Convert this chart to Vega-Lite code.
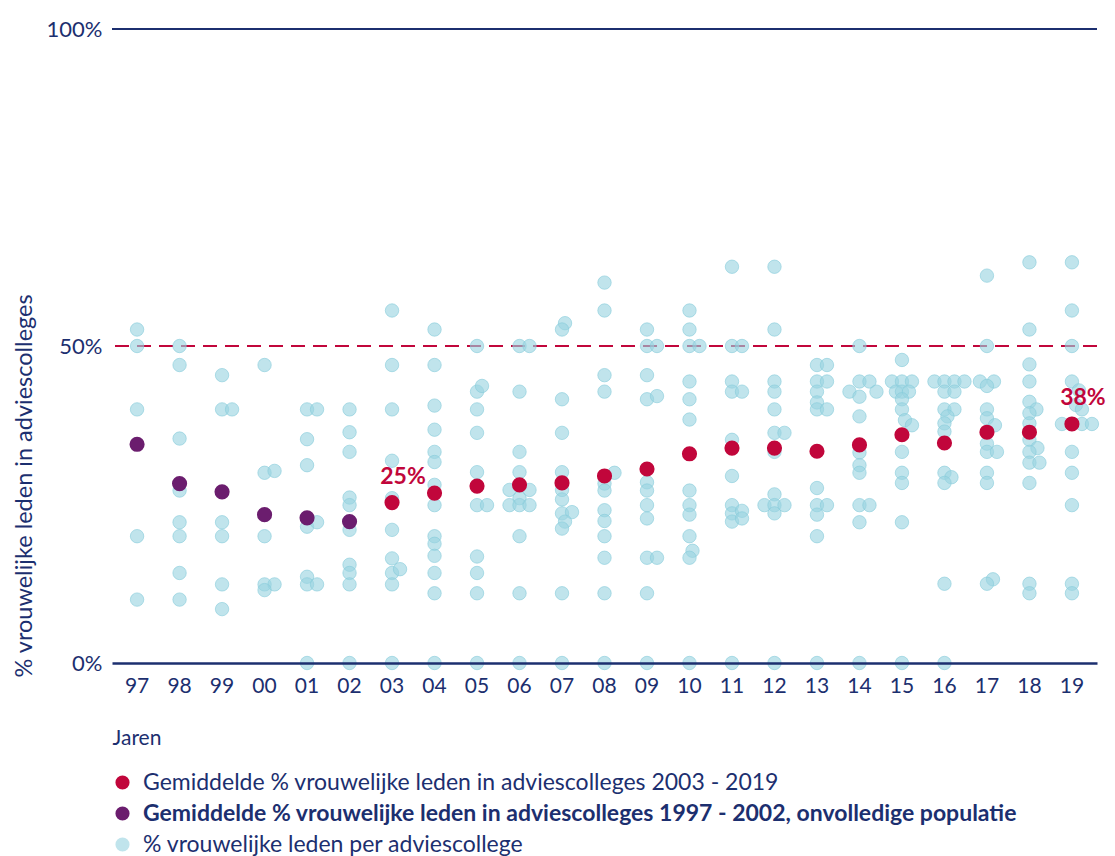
{
  "$schema": "https://vega.github.io/schema/vega-lite/v6.json",
  "autosize": {"type": "none"},
  "padding": {"left": 112, "top": 29, "right": 18, "bottom": 193},
  "width": 985,
  "height": 634,
  "background": "white",
  "config": {
    "font": "Lato",
    "view": {"stroke": null},
    "axis": {"labelColor": "#1c2f6f", "titleColor": "#1c2f6f", "labelFont": "Lato", "titleFont": "Lato"},
    "legend": {"labelColor": "#1c2f6f", "labelFont": "Lato"}
  },
  "datasets": {
    "gemiddelden": [
      {"jaar": "97", "pct": 34.5, "reeks": "b"},
      {"jaar": "98", "pct": 28.3, "reeks": "b"},
      {"jaar": "99", "pct": 27.0, "reeks": "b"},
      {"jaar": "00", "pct": 23.4, "reeks": "b"},
      {"jaar": "01", "pct": 22.9, "reeks": "b"},
      {"jaar": "02", "pct": 22.3, "reeks": "b"},
      {"jaar": "03", "pct": 25.3, "reeks": "a", "lbl": "25%"},
      {"jaar": "04", "pct": 26.8, "reeks": "a"},
      {"jaar": "05", "pct": 27.9, "reeks": "a"},
      {"jaar": "06", "pct": 28.1, "reeks": "a"},
      {"jaar": "07", "pct": 28.4, "reeks": "a"},
      {"jaar": "08", "pct": 29.5, "reeks": "a"},
      {"jaar": "09", "pct": 30.6, "reeks": "a"},
      {"jaar": "10", "pct": 33.0, "reeks": "a"},
      {"jaar": "11", "pct": 33.9, "reeks": "a"},
      {"jaar": "12", "pct": 33.9, "reeks": "a"},
      {"jaar": "13", "pct": 33.4, "reeks": "a"},
      {"jaar": "14", "pct": 34.4, "reeks": "a"},
      {"jaar": "15", "pct": 36.0, "reeks": "a"},
      {"jaar": "16", "pct": 34.7, "reeks": "a"},
      {"jaar": "17", "pct": 36.4, "reeks": "a"},
      {"jaar": "18", "pct": 36.4, "reeks": "a"},
      {"jaar": "19", "pct": 37.7, "reeks": "a", "lbl": "38%"}
    ],
    "colleges": [
      {"jaar": "97", "pct": 52.6, "j": 0}, {"jaar": "97", "pct": 50, "j": 0}, {"jaar": "97", "pct": 40, "j": 0}, {"jaar": "97", "pct": 20, "j": 0}, {"jaar": "97", "pct": 10, "j": 0},
      {"jaar": "98", "pct": 50, "j": 0}, {"jaar": "98", "pct": 47, "j": 0}, {"jaar": "98", "pct": 35.4, "j": 0}, {"jaar": "98", "pct": 27.2, "j": 0}, {"jaar": "98", "pct": 22.2, "j": 0}, {"jaar": "98", "pct": 20, "j": 0}, {"jaar": "98", "pct": 14.2, "j": 0}, {"jaar": "98", "pct": 10, "j": 0},
      {"jaar": "99", "pct": 45.4, "j": 0}, {"jaar": "99", "pct": 40, "j": 0}, {"jaar": "99", "pct": 40, "j": 1}, {"jaar": "99", "pct": 22.2, "j": 0}, {"jaar": "99", "pct": 20, "j": 0}, {"jaar": "99", "pct": 12.4, "j": 0}, {"jaar": "99", "pct": 8.5, "j": 0},
      {"jaar": "00", "pct": 47, "j": 0}, {"jaar": "00", "pct": 30, "j": 0}, {"jaar": "00", "pct": 30.3, "j": 1}, {"jaar": "00", "pct": 20, "j": 0}, {"jaar": "00", "pct": 12.4, "j": 0}, {"jaar": "00", "pct": 12.4, "j": 1}, {"jaar": "00", "pct": 11.5, "j": 0},
      {"jaar": "01", "pct": 40, "j": 0}, {"jaar": "01", "pct": 40, "j": 1}, {"jaar": "01", "pct": 35.3, "j": 0}, {"jaar": "01", "pct": 31.2, "j": 0}, {"jaar": "01", "pct": 21.5, "j": 0}, {"jaar": "01", "pct": 22.2, "j": 1}, {"jaar": "01", "pct": 13.6, "j": 0}, {"jaar": "01", "pct": 12.4, "j": 0}, {"jaar": "01", "pct": 12.4, "j": 1}, {"jaar": "01", "pct": 0, "j": 0},
      {"jaar": "02", "pct": 40, "j": 0}, {"jaar": "02", "pct": 36.4, "j": 0}, {"jaar": "02", "pct": 33.3, "j": 0}, {"jaar": "02", "pct": 26.1, "j": 0}, {"jaar": "02", "pct": 24.9, "j": 0}, {"jaar": "02", "pct": 21, "j": 0}, {"jaar": "02", "pct": 15.5, "j": 0}, {"jaar": "02", "pct": 14.2, "j": 0}, {"jaar": "02", "pct": 12.4, "j": 0}, {"jaar": "02", "pct": 0, "j": 0},
      {"jaar": "03", "pct": 55.6, "j": 0}, {"jaar": "03", "pct": 47, "j": 0}, {"jaar": "03", "pct": 40, "j": 0}, {"jaar": "03", "pct": 31.9, "j": 0}, {"jaar": "03", "pct": 26, "j": 0}, {"jaar": "03", "pct": 21, "j": 0}, {"jaar": "03", "pct": 16.5, "j": 0}, {"jaar": "03", "pct": 14.2, "j": 0}, {"jaar": "03", "pct": 14.8, "j": 0.8}, {"jaar": "03", "pct": 12.4, "j": 0}, {"jaar": "03", "pct": 0, "j": 0},
      {"jaar": "04", "pct": 52.6, "j": 0}, {"jaar": "04", "pct": 47, "j": 0}, {"jaar": "04", "pct": 40.6, "j": 0}, {"jaar": "04", "pct": 36.8, "j": 0}, {"jaar": "04", "pct": 33.3, "j": 0}, {"jaar": "04", "pct": 31.7, "j": 0}, {"jaar": "04", "pct": 28.1, "j": 0}, {"jaar": "04", "pct": 24.9, "j": 0}, {"jaar": "04", "pct": 20, "j": 0}, {"jaar": "04", "pct": 18.8, "j": 0}, {"jaar": "04", "pct": 16.9, "j": 0}, {"jaar": "04", "pct": 14.2, "j": 0}, {"jaar": "04", "pct": 11, "j": 0}, {"jaar": "04", "pct": 0, "j": 0},
      {"jaar": "05", "pct": 50, "j": 0}, {"jaar": "05", "pct": 42.8, "j": 0}, {"jaar": "05", "pct": 43.7, "j": 0.5}, {"jaar": "05", "pct": 40, "j": 0}, {"jaar": "05", "pct": 36.3, "j": 0}, {"jaar": "05", "pct": 30.1, "j": 0}, {"jaar": "05", "pct": 24.9, "j": 0}, {"jaar": "05", "pct": 24.9, "j": 1}, {"jaar": "05", "pct": 16.8, "j": 0}, {"jaar": "05", "pct": 14.2, "j": 0}, {"jaar": "05", "pct": 11, "j": 0}, {"jaar": "05", "pct": 0, "j": 0},
      {"jaar": "06", "pct": 50, "j": 0}, {"jaar": "06", "pct": 50, "j": 1}, {"jaar": "06", "pct": 42.8, "j": 0}, {"jaar": "06", "pct": 33.3, "j": 0}, {"jaar": "06", "pct": 30.1, "j": 0}, {"jaar": "06", "pct": 27.3, "j": -1}, {"jaar": "06", "pct": 27.3, "j": 1}, {"jaar": "06", "pct": 26, "j": 0}, {"jaar": "06", "pct": 24.9, "j": -1}, {"jaar": "06", "pct": 24.9, "j": 0}, {"jaar": "06", "pct": 24.9, "j": 1}, {"jaar": "06", "pct": 20, "j": 0}, {"jaar": "06", "pct": 11, "j": 0}, {"jaar": "06", "pct": 0, "j": 0},
      {"jaar": "07", "pct": 53.6, "j": 0.3}, {"jaar": "07", "pct": 52.6, "j": 0}, {"jaar": "07", "pct": 41.6, "j": 0}, {"jaar": "07", "pct": 36.3, "j": 0}, {"jaar": "07", "pct": 30.1, "j": 0}, {"jaar": "07", "pct": 27.3, "j": 0}, {"jaar": "07", "pct": 25.8, "j": 0}, {"jaar": "07", "pct": 23.6, "j": 0}, {"jaar": "07", "pct": 23.8, "j": 1}, {"jaar": "07", "pct": 22.3, "j": 0.3}, {"jaar": "07", "pct": 21.2, "j": 0}, {"jaar": "07", "pct": 11, "j": 0}, {"jaar": "07", "pct": 0, "j": 0},
      {"jaar": "08", "pct": 60, "j": 0}, {"jaar": "08", "pct": 55.6, "j": 0}, {"jaar": "08", "pct": 45.4, "j": 0}, {"jaar": "08", "pct": 42.8, "j": 0}, {"jaar": "08", "pct": 30, "j": 1}, {"jaar": "08", "pct": 28.3, "j": 0}, {"jaar": "08", "pct": 27.2, "j": 0}, {"jaar": "08", "pct": 24.1, "j": 0}, {"jaar": "08", "pct": 22.4, "j": 0}, {"jaar": "08", "pct": 20, "j": 0}, {"jaar": "08", "pct": 16.6, "j": 0}, {"jaar": "08", "pct": 11, "j": 0}, {"jaar": "08", "pct": 0, "j": 0},
      {"jaar": "09", "pct": 52.6, "j": 0}, {"jaar": "09", "pct": 50, "j": 0}, {"jaar": "09", "pct": 50, "j": 1}, {"jaar": "09", "pct": 45.4, "j": 0}, {"jaar": "09", "pct": 41.6, "j": 0}, {"jaar": "09", "pct": 42.1, "j": 1}, {"jaar": "09", "pct": 28.5, "j": 0}, {"jaar": "09", "pct": 27.2, "j": 0}, {"jaar": "09", "pct": 24.9, "j": 0}, {"jaar": "09", "pct": 22.8, "j": 0}, {"jaar": "09", "pct": 16.6, "j": 0}, {"jaar": "09", "pct": 16.6, "j": 1}, {"jaar": "09", "pct": 11, "j": 0}, {"jaar": "09", "pct": 0, "j": 0},
      {"jaar": "10", "pct": 55.6, "j": 0}, {"jaar": "10", "pct": 52.6, "j": 0}, {"jaar": "10", "pct": 50, "j": 0}, {"jaar": "10", "pct": 50, "j": 1}, {"jaar": "10", "pct": 44.4, "j": 0}, {"jaar": "10", "pct": 41.6, "j": 0}, {"jaar": "10", "pct": 38.4, "j": 0}, {"jaar": "10", "pct": 27.2, "j": 0}, {"jaar": "10", "pct": 24.9, "j": 0}, {"jaar": "10", "pct": 23.4, "j": 0}, {"jaar": "10", "pct": 20, "j": 0}, {"jaar": "10", "pct": 17.7, "j": 0.3}, {"jaar": "10", "pct": 16.6, "j": 0}, {"jaar": "10", "pct": 0, "j": 0},
      {"jaar": "11", "pct": 62.5, "j": 0}, {"jaar": "11", "pct": 50, "j": 0}, {"jaar": "11", "pct": 50, "j": 1}, {"jaar": "11", "pct": 44.4, "j": 0}, {"jaar": "11", "pct": 42.8, "j": 0}, {"jaar": "11", "pct": 42.8, "j": 1}, {"jaar": "11", "pct": 35.2, "j": 0}, {"jaar": "11", "pct": 29.5, "j": 0}, {"jaar": "11", "pct": 24.9, "j": 0}, {"jaar": "11", "pct": 23.6, "j": 0}, {"jaar": "11", "pct": 24, "j": 1}, {"jaar": "11", "pct": 22.3, "j": 0}, {"jaar": "11", "pct": 22.8, "j": 1}, {"jaar": "11", "pct": 0, "j": 0},
      {"jaar": "12", "pct": 62.5, "j": 0}, {"jaar": "12", "pct": 52.6, "j": 0}, {"jaar": "12", "pct": 44.4, "j": 0}, {"jaar": "12", "pct": 42.8, "j": 0}, {"jaar": "12", "pct": 40, "j": 0}, {"jaar": "12", "pct": 36.3, "j": 0}, {"jaar": "12", "pct": 36.3, "j": 1}, {"jaar": "12", "pct": 33.3, "j": 0}, {"jaar": "12", "pct": 26.6, "j": 0}, {"jaar": "12", "pct": 24.9, "j": -1}, {"jaar": "12", "pct": 24.9, "j": 0}, {"jaar": "12", "pct": 24.9, "j": 1}, {"jaar": "12", "pct": 23.6, "j": 0}, {"jaar": "12", "pct": 0, "j": 0},
      {"jaar": "13", "pct": 47, "j": 0}, {"jaar": "13", "pct": 47, "j": 1}, {"jaar": "13", "pct": 44.4, "j": 0}, {"jaar": "13", "pct": 44.4, "j": 1}, {"jaar": "13", "pct": 42.8, "j": 0}, {"jaar": "13", "pct": 41.1, "j": 0}, {"jaar": "13", "pct": 40, "j": 0}, {"jaar": "13", "pct": 40, "j": 1}, {"jaar": "13", "pct": 27.6, "j": 0}, {"jaar": "13", "pct": 24.9, "j": 0}, {"jaar": "13", "pct": 24.9, "j": 1}, {"jaar": "13", "pct": 23.4, "j": 0}, {"jaar": "13", "pct": 20, "j": 0}, {"jaar": "13", "pct": 0, "j": 0},
      {"jaar": "14", "pct": 50, "j": 0}, {"jaar": "14", "pct": 44.4, "j": 0}, {"jaar": "14", "pct": 44.4, "j": 1}, {"jaar": "14", "pct": 42.8, "j": -1}, {"jaar": "14", "pct": 42.8, "j": 1.7}, {"jaar": "14", "pct": 42, "j": 0}, {"jaar": "14", "pct": 38.9, "j": 0}, {"jaar": "14", "pct": 33.2, "j": 0}, {"jaar": "14", "pct": 31.2, "j": 0}, {"jaar": "14", "pct": 30, "j": 0}, {"jaar": "14", "pct": 24.9, "j": 0}, {"jaar": "14", "pct": 24.9, "j": 1}, {"jaar": "14", "pct": 22.2, "j": 0}, {"jaar": "14", "pct": 0, "j": 0},
      {"jaar": "15", "pct": 47.8, "j": 0}, {"jaar": "15", "pct": 44.4, "j": -1}, {"jaar": "15", "pct": 44.4, "j": 0}, {"jaar": "15", "pct": 44.4, "j": 1}, {"jaar": "15", "pct": 42.8, "j": -0.6}, {"jaar": "15", "pct": 42.8, "j": 0}, {"jaar": "15", "pct": 42.8, "j": 0.7}, {"jaar": "15", "pct": 41.6, "j": 0}, {"jaar": "15", "pct": 40, "j": 0}, {"jaar": "15", "pct": 38.3, "j": 0.3}, {"jaar": "15", "pct": 37.5, "j": 1}, {"jaar": "15", "pct": 33.3, "j": 0}, {"jaar": "15", "pct": 30, "j": 0}, {"jaar": "15", "pct": 28.4, "j": 0}, {"jaar": "15", "pct": 22.2, "j": 0}, {"jaar": "15", "pct": 0, "j": 0},
      {"jaar": "16", "pct": 44.4, "j": -1}, {"jaar": "16", "pct": 44.4, "j": 0}, {"jaar": "16", "pct": 44.4, "j": 1}, {"jaar": "16", "pct": 44.4, "j": 2}, {"jaar": "16", "pct": 42.8, "j": 0}, {"jaar": "16", "pct": 42.8, "j": 1}, {"jaar": "16", "pct": 40, "j": 0}, {"jaar": "16", "pct": 40, "j": 1}, {"jaar": "16", "pct": 38.9, "j": 0.3}, {"jaar": "16", "pct": 37.8, "j": 0}, {"jaar": "16", "pct": 36.5, "j": 0}, {"jaar": "16", "pct": 30, "j": 0}, {"jaar": "16", "pct": 29.3, "j": 0.7}, {"jaar": "16", "pct": 28.4, "j": 0}, {"jaar": "16", "pct": 12.5, "j": 0}, {"jaar": "16", "pct": 0, "j": 0},
      {"jaar": "17", "pct": 61.1, "j": 0}, {"jaar": "17", "pct": 50, "j": 0}, {"jaar": "17", "pct": 44.4, "j": -0.7}, {"jaar": "17", "pct": 44.4, "j": 0.7}, {"jaar": "17", "pct": 43.7, "j": 0}, {"jaar": "17", "pct": 40, "j": 0}, {"jaar": "17", "pct": 38.6, "j": 0}, {"jaar": "17", "pct": 37.5, "j": 0.8}, {"jaar": "17", "pct": 34.6, "j": 0}, {"jaar": "17", "pct": 33.3, "j": 0}, {"jaar": "17", "pct": 33.3, "j": 1}, {"jaar": "17", "pct": 30, "j": 0}, {"jaar": "17", "pct": 28.4, "j": 0}, {"jaar": "17", "pct": 13.2, "j": 0.6}, {"jaar": "17", "pct": 12.5, "j": 0},
      {"jaar": "18", "pct": 63.2, "j": 0}, {"jaar": "18", "pct": 52.6, "j": 0}, {"jaar": "18", "pct": 47.1, "j": 0}, {"jaar": "18", "pct": 44.4, "j": 0}, {"jaar": "18", "pct": 41.2, "j": 0}, {"jaar": "18", "pct": 40, "j": 0.7}, {"jaar": "18", "pct": 39.4, "j": 0}, {"jaar": "18", "pct": 37.8, "j": 0}, {"jaar": "18", "pct": 35.2, "j": 0}, {"jaar": "18", "pct": 33.9, "j": 0.8}, {"jaar": "18", "pct": 33.3, "j": 0}, {"jaar": "18", "pct": 31.6, "j": 0}, {"jaar": "18", "pct": 31.6, "j": 1}, {"jaar": "18", "pct": 28.4, "j": 0}, {"jaar": "18", "pct": 12.5, "j": 0}, {"jaar": "18", "pct": 11, "j": 0},
      {"jaar": "19", "pct": 63.2, "j": 0}, {"jaar": "19", "pct": 55.6, "j": 0}, {"jaar": "19", "pct": 50, "j": 0}, {"jaar": "19", "pct": 44.4, "j": 0}, {"jaar": "19", "pct": 43, "j": 0.7}, {"jaar": "19", "pct": 40.7, "j": 0.4}, {"jaar": "19", "pct": 40, "j": 1}, {"jaar": "19", "pct": 37.7, "j": -1}, {"jaar": "19", "pct": 37.7, "j": 0}, {"jaar": "19", "pct": 37.7, "j": 1}, {"jaar": "19", "pct": 37.7, "j": 2}, {"jaar": "19", "pct": 33.3, "j": 0}, {"jaar": "19", "pct": 30, "j": 0}, {"jaar": "19", "pct": 24.9, "j": 0}, {"jaar": "19", "pct": 12.5, "j": 0}, {"jaar": "19", "pct": 11, "j": 0}
    ]
  },
  "encoding": {
    "y": {
      "field": "pct",
      "type": "quantitative",
      "scale": {"domain": [0, 100], "nice": false, "zero": true},
      "axis": {
        "values": [0, 50, 100],
        "labelExpr": "datum.value + '%'",
        "domain": false,
        "ticks": false,
        "tickSize": 0,
        "grid": false,
        "labelPadding": 10,
        "labelFontSize": 22,
        "labelBaseline": "middle",
        "title": "% vrouwelijke leden in adviescolleges",
        "titleFontSize": 23.5,
        "titleFontWeight": "normal",
        "titleAngle": 270,
        "titleAlign": "left",
        "titleAnchor": "start",
        "titleBaseline": "middle",
        "titleX": -88,
        "titleY": 648
      }
    }
  },
  "layer": [
    {
      "data": {"values": [{"pct": 100}]},
      "mark": {"type": "rule", "color": "#1c2f6f", "strokeWidth": 2},
      "encoding": {}
    },
    {
      "data": {"values": [{"pct": 50}]},
      "mark": {"type": "rule", "color": "#c1063b", "strokeWidth": 2.2, "strokeDash": [14, 8]},
      "encoding": {}
    },
    {
      "data": {"name": "colleges"},
      "mark": {"type": "circle", "size": 180, "opacity": 1, "stroke": "#86cbdb", "strokeOpacity": 0.6, "strokeWidth": 1},
      "encoding": {
        "x": {
          "field": "jaar",
          "type": "nominal",
          "scale": {"type": "band", "domain": ["97","98","99","00","01","02","03","04","05","06","07","08","09","10","11","12","13","14","15","16","17","18","19"], "paddingInner": 0, "paddingOuter": 0.09},
          "axis": {
            "labelAngle": 0,
            "labelFontSize": 21,
            "labelPadding": 12,
            "ticks": false,
            "tickSize": 0,
            "domain": true,
            "domainColor": "#1c2f6f",
            "domainWidth": 2.5,
            "zindex": 1,
            "title": "Jaren",
            "titleFontSize": 21,
            "titleFontWeight": "normal",
            "titleAnchor": "start",
            "titleAlign": "left",
            "titleBaseline": "middle",
            "titleX": 0,
            "titleY": 75
          }
        },
        "xOffset": {"field": "j", "type": "quantitative", "scale": {"domain": [-1, 2], "range": [11.25, 41.25], "zero": false, "nice": false}},
        "color": {
          "datum": "c",
          "type": "nominal",
          "scale": {"domain": ["a", "b", "c"], "range": ["#c1063b", "#6b1d6e", "rgba(154,212,225,0.62)"]}
        }
      }
    },
    {
      "data": {"name": "gemiddelden"},
      "mark": {"type": "circle", "size": 230, "opacity": 1},
      "encoding": {
        "x": {"field": "jaar", "type": "nominal"},
        "color": {
          "field": "reeks",
          "type": "nominal",
          "scale": {"domain": ["a", "b", "c"], "range": ["#c1063b", "#6b1d6e", "rgba(154,212,225,0.62)"]},
          "legend": {
            "title": null,
            "orient": "none",
            "legendX": -1,
            "legendY": 742,
            "direction": "vertical",
            "padding": 0,
            "symbolType": "circle",
            "symbolSize": 200,
            "symbolStrokeWidth": 0,
            "symbolOpacity": 1,
            "labelFontWeight": {"expr": "datum.value === 'b' ? 'bold' : 'normal'"},
            "labelFontSize": 23,
            "labelLimit": 1200,
            "labelOffset": 9,
            "rowPadding": 7,
            "labelExpr": "datum.value === 'a' ? 'Gemiddelde % vrouwelijke leden in adviescolleges 2003 - 2019' : datum.value === 'b' ? 'Gemiddelde % vrouwelijke leden in adviescolleges 1997 - 2002, onvolledige populatie' : '% vrouwelijke leden per adviescollege'"
          }
        }
      }
    },
    {
      "data": {"name": "gemiddelden"},
      "transform": [{"filter": "datum.lbl != null"}],
      "mark": {"type": "text", "color": "#c1063b", "fontSize": 23, "fontWeight": "bold", "dx": 11, "dy": -26},
      "encoding": {
        "x": {"field": "jaar", "type": "nominal"},
        "text": {"field": "lbl"}
      }
    }
  ]
}
